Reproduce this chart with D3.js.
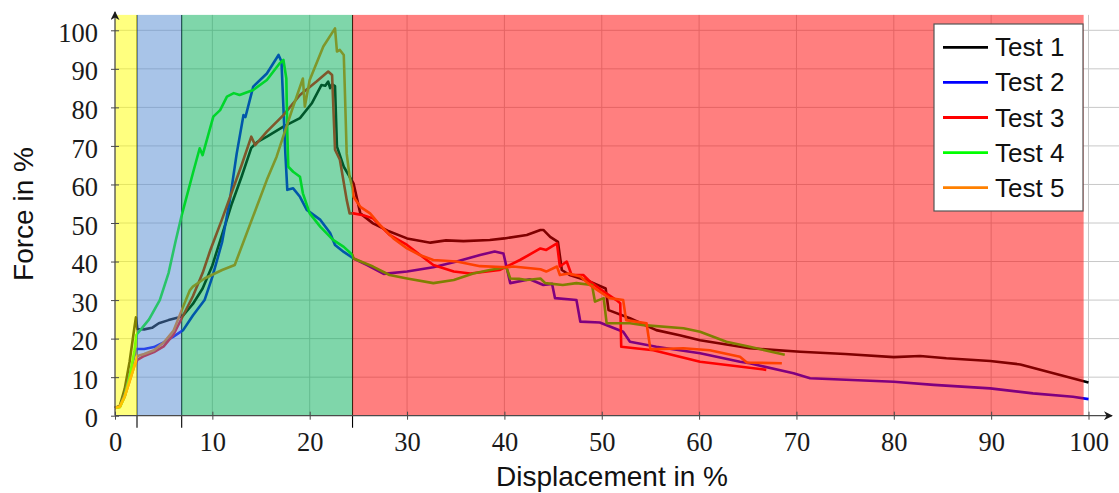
<!DOCTYPE html>
<html>
<head>
<meta charset="utf-8">
<script src="https://cdn.jsdelivr.net/npm/d3@7"></script>
<style>
  body { margin: 0; background: #fff; }
  svg { display: block; }
</style>
</head>
<body>
<svg id="chart" width="1119" height="493"></svg>
<script>
// ---- data: displacement in %, force in % ----
const seriesNames = ["Test 1", "Test 2", "Test 3", "Test 4", "Test 5"];

const test1 = [[0,2],[0.5,2.6],[1,7],[1.5,14],[2,23],[2.15,25.5],[2.3,22.5],[3,22.4],[3.8,22.8],[4.5,24],[5.5,24.8],[6.5,25.5],[7,26],[7.5,27.5],[8,29],[9,33],[10,39],[11,47],[12,55],[13,62],[14,69.5],[14.6,71],[15.6,72.4],[17.3,75],[19,77.2],[20.2,81],[21.2,85.8],[21.6,85.6],[21.9,86.7],[22.1,85],[22.3,86],[22.6,85.5],[22.8,69.8],[23.5,64.6],[24.5,60.3],[25.2,52.5],[26.5,49.9],[28,48],[30,46],[32.4,44.9],[34,45.5],[35.8,45.3],[38.5,45.6],[40,46],[42.3,46.9],[43.7,48.2],[44,48.2],[44.7,46.4],[45.5,45.1],[45.9,37.8],[46.7,36.5],[48.8,34.8],[50.4,33],[50.7,27.4],[52.9,25.3],[55.6,22.2],[58,20.9],[60.1,19.6],[65.2,17.5],[70.4,16.6],[75,16],[80,15.2],[82.7,15.5],[85.4,14.9],[89.9,14.2],[93,13.3],[96.4,11],[100,8.6]];

const test2 = [[0,2],[0.5,2.4],[1,5.5],[1.5,10.5],[2,15.5],[2.2,17.3],[3,17.3],[4,17.8],[5,19],[6,20.5],[7,22.2],[8,26],[9.2,30],[10,36],[11,45],[11.8,56],[12.5,68],[13.2,78],[13.4,77.5],[14.2,85.4],[15.6,88.8],[16.8,93.6],[17.1,91.9],[17.5,68],[17.7,58.6],[18.3,59],[19,56.8],[19.7,53.4],[21.1,50.8],[22.1,47.4],[22.6,44.3],[23.5,42.5],[24.5,40.8],[25.9,39.1],[27.6,36.8],[30,37.4],[32.7,38.5],[35.1,40],[37.5,41.7],[39,42.6],[39.9,42.1],[40.6,34.4],[42.6,35.4],[44,33.9],[44.9,34.2],[45.2,30.5],[47.4,30],[47.8,24.4],[49.8,24.2],[52.2,21.8],[52.9,19.2],[55.6,17.9],[60.1,16.2],[64.2,14],[65.2,13.6],[69.7,11],[71.4,9.7],[80,8.8],[84.1,8],[89.9,7.1],[94.3,5.8],[98.4,4.9],[100,4.3]];

const test3 = [[0,2],[0.5,2.4],[1,5],[1.5,9],[2,13],[2.3,14.5],[3,15.5],[4,16.5],[5,18],[6,21],[7,26],[8,31],[9,37],[9.8,43],[11,51],[12.2,59.4],[13,65],[14,72.4],[14.4,70.2],[15.6,73.7],[17.3,78],[19,83.2],[20.7,86.7],[21.9,89.3],[22.3,88.4],[22.6,69],[23.1,66.4],[23.8,56],[24.1,52.5],[24.5,52.5],[25.5,52],[26.5,51.2],[28.2,46.9],[30,44.3],[32.7,39.1],[34.8,37.4],[36.5,36.9],[39.5,37.8],[41.6,40.4],[43.7,43.4],[44.3,43],[45.4,44.7],[45.7,38.7],[46.4,40],[46.9,36.5],[48.1,36.5],[48.8,34.8],[50.2,32.2],[51.5,30],[51.9,29.2],[52,17.9],[55.3,17],[60.1,14],[66.9,11.9]];

const test4 = [[0,2],[0.5,2.2],[1,5],[1.5,10],[2,17],[2.2,21],[2.6,22.2],[3.5,25],[4.6,30],[5.5,37],[6.2,45],[6.85,52],[8,62.9],[8.7,69.4],[9,67.6],[10.1,77.6],[10.8,79.3],[11.5,82.8],[12.2,83.7],[12.8,83.2],[14.2,84.5],[15.6,87.1],[16.9,91.4],[17.3,92.3],[17.6,87.5],[17.7,73.3],[17.8,64.6],[18.3,63.3],[19,62],[19.3,57.7],[20,52.5],[21.1,49],[22.4,45.6],[23.5,43.8],[24.4,41.7],[24.5,40.8],[26.5,38.7],[28.2,36.5],[30,35.6],[32.7,34.4],[34.8,35.2],[36.8,36.9],[38.5,37.8],[40.2,38.5],[40.6,35.6],[41.5,35.5],[42.3,35.2],[43.7,35.6],[44.2,34.4],[46,33.9],[47.4,34.4],[49,33.9],[49.3,29.6],[50.2,30.5],[50.5,24],[52.9,24],[54.3,23.5],[58.4,22.7],[60.1,21.8],[62.8,19.2],[65.2,17.9],[68.8,15.8]];

const test5 = [[0,2],[0.5,2.3],[1,5],[1.5,9],[2,13],[2.3,15.5],[3,16],[4,17],[5,19],[6,22],[7,28.3],[7.7,32.6],[8,33.5],[9.2,35.6],[11,37.8],[12.3,39.1],[15.6,61.2],[16.6,67.2],[17.3,72.6],[18.3,80.2],[19.3,87.5],[19.5,80.2],[20,87.1],[21.4,95.8],[22.6,100.5],[22.8,94.5],[23.1,94.9],[23.5,93.6],[23.6,85.4],[23.8,68],[24.1,62],[24.4,59],[24.5,56.8],[25.2,54.2],[26.2,52.5],[27.2,49.5],[28.6,46],[30,43.4],[31.3,41.7],[32.7,40.4],[35.1,40],[37.5,38.8],[40.2,38.5],[40.9,38.7],[43.7,38],[44.3,37.4],[45.4,38.7],[45.7,36.5],[46.6,36.9],[47.8,36.1],[48.8,33.9],[50.8,30.5],[52.2,30],[52.5,24.8],[54.6,24],[55,17.2],[58.4,17.5],[61.1,17],[64.2,15.3],[64.9,13.8],[68.5,13.6]];

const seriesData = [test1, test2, test3, test4, test5];

// displacement limits of the four deformation phases
const phaseBounds = [0, 2.26, 6.85, 24.4, 99.5];
const phaseTop = 104;

const xTicks = [0, 10, 20, 30, 40, 50, 60, 70, 80, 90, 100];
const yTicks = [0, 10, 20, 30, 40, 50, 60, 70, 80, 90, 100];

// ---- styles ----
const lineColors = ["#000000", "#0000ff", "#ff0000", "#00ff00", "#ff8000"];
const phaseColors = ["#ffff00", "#5189d1", "#00ad55", "#ff0000"];

const svg = d3.select("#chart");
const x = d3.scaleLinear().domain([0, 100]).range([115, 1088.5]);
const y = d3.scaleLinear().domain([0, 100]).range([415.7, 30.3]);
const x0 = x(0), y0 = y(0);

// grid
const grid = svg.append("g").attr("stroke", "#c8c8c8").attr("stroke-width", 1);
grid.selectAll("line.h").data(yTicks.slice(1)).join("line")
  .attr("x1", x0).attr("x2", 1119)
  .attr("y1", d => y(d)).attr("y2", d => y(d));
grid.selectAll("line.v").data(xTicks.slice(1)).join("line")
  .attr("x1", d => x(d)).attr("x2", d => x(d))
  .attr("y1", y(phaseTop)).attr("y2", y0);

// phase boundaries
svg.append("g").selectAll("line").data(phaseBounds.slice(1, 4)).join("line")
  .attr("x1", d => x(d)).attr("x2", d => x(d))
  .attr("y1", y(phaseTop)).attr("y2", y0 + 12)
  .attr("stroke", "#000").attr("stroke-width", 1.1);

// curves
const line = d3.line().x(d => x(d[0])).y(d => y(d[1])).curve(d3.curveLinear);
svg.append("g").selectAll("path").data(seriesData).join("path")
  .attr("d", line)
  .attr("fill", "none")
  .attr("stroke", (d, i) => lineColors[i])
  .attr("stroke-width", 2.6)
  .attr("stroke-linejoin", "round");

// translucent phase bands laid over the curves
const phases = d3.range(4).map(i => ({ a: phaseBounds[i], b: phaseBounds[i + 1], c: phaseColors[i] }));
svg.append("g").selectAll("rect").data(phases).join("rect")
  .attr("x", d => x(d.a)).attr("width", d => x(d.b) - x(d.a))
  .attr("y", y(phaseTop)).attr("height", y0 - y(phaseTop))
  .attr("fill", d => d.c).attr("fill-opacity", 0.5);

// axes
const axisColor = "#4a4a4a";
svg.append("g").attr("transform", `translate(0,${y0})`)
  .call(d3.axisBottom(x).tickValues(xTicks).tickSize(4).tickPadding(12).tickFormat(d3.format("d")));
svg.append("g").attr("transform", `translate(0,${y0})`)
  .call(d3.axisTop(x).tickValues(xTicks).tickSize(4).tickFormat(""));
const yAxis = svg.append("g").attr("transform", `translate(${x0},0)`)
  .call(d3.axisLeft(y).tickValues(yTicks).tickSize(4).tickPadding(13).tickFormat(d3.format("d")));
svg.append("g").attr("transform", `translate(${x0},0)`)
  .call(d3.axisRight(y).tickValues(yTicks).tickSize(4).tickFormat(""));
svg.selectAll(".domain").remove();
svg.selectAll(".tick line").attr("stroke", axisColor).attr("stroke-width", 1);
svg.selectAll(".tick text")
  .attr("fill", "#1a1a1a")
  .style("font-family", "'Liberation Serif', 'DejaVu Serif', serif")
  .style("font-size", "26.5px");
yAxis.selectAll(".tick text").attr("dy", "0.42em");

// axis lines with arrow heads
const defs = svg.append("defs");
defs.append("marker").attr("id", "arrow")
  .attr("viewBox", "0 0 10 10").attr("refX", 9).attr("refY", 5)
  .attr("markerWidth", 9).attr("markerHeight", 9).attr("markerUnits", "userSpaceOnUse")
  .attr("orient", "auto")
  .append("path").attr("d", "M0,0 L10,5 L0,10 L3,5 Z").attr("fill", "#1a1a1a");
svg.append("line").attr("x1", x0).attr("x2", 1112).attr("y1", y0).attr("y2", y0)
  .attr("stroke", axisColor).attr("stroke-width", 1.3).attr("marker-end", "url(#arrow)");
svg.append("line").attr("x1", x0).attr("x2", x0).attr("y1", y0).attr("y2", 12)
  .attr("stroke", axisColor).attr("stroke-width", 1.3).attr("marker-end", "url(#arrow)");

// axis titles
const sans = "'Liberation Sans', Arial, Helvetica, sans-serif";
svg.append("text").attr("x", 612).attr("y", 486)
  .attr("text-anchor", "middle").style("font-family", sans).style("font-size", "28px")
  .attr("fill", "#111").text("Displacement in %");
svg.append("text").attr("transform", "translate(33,214) rotate(-90)")
  .attr("text-anchor", "middle").style("font-family", sans).style("font-size", "28px")
  .attr("fill", "#111").text("Force in %");

// legend
const legend = svg.append("g");
legend.append("rect").attr("x", 934).attr("y", 24).attr("width", 149).attr("height", 187)
  .attr("fill", "#fff").attr("stroke", "#555").attr("stroke-width", 1.2);
const rowY = d3.scaleLinear().domain([0, 4]).range([47.3, 187.7]);
const rows = legend.selectAll("g.row").data(seriesNames).join("g")
  .attr("transform", (d, i) => `translate(0,${rowY(i)})`);
rows.append("line").attr("x1", 943).attr("x2", 988).attr("y1", 0).attr("y2", 0)
  .attr("stroke", (d, i) => lineColors[i]).attr("stroke-width", 2.8);
rows.append("text").attr("x", 995).attr("y", 9)
  .style("font-family", sans).style("font-size", "26px").attr("fill", "#111")
  .text(d => d);
</script>
</body>
</html>
